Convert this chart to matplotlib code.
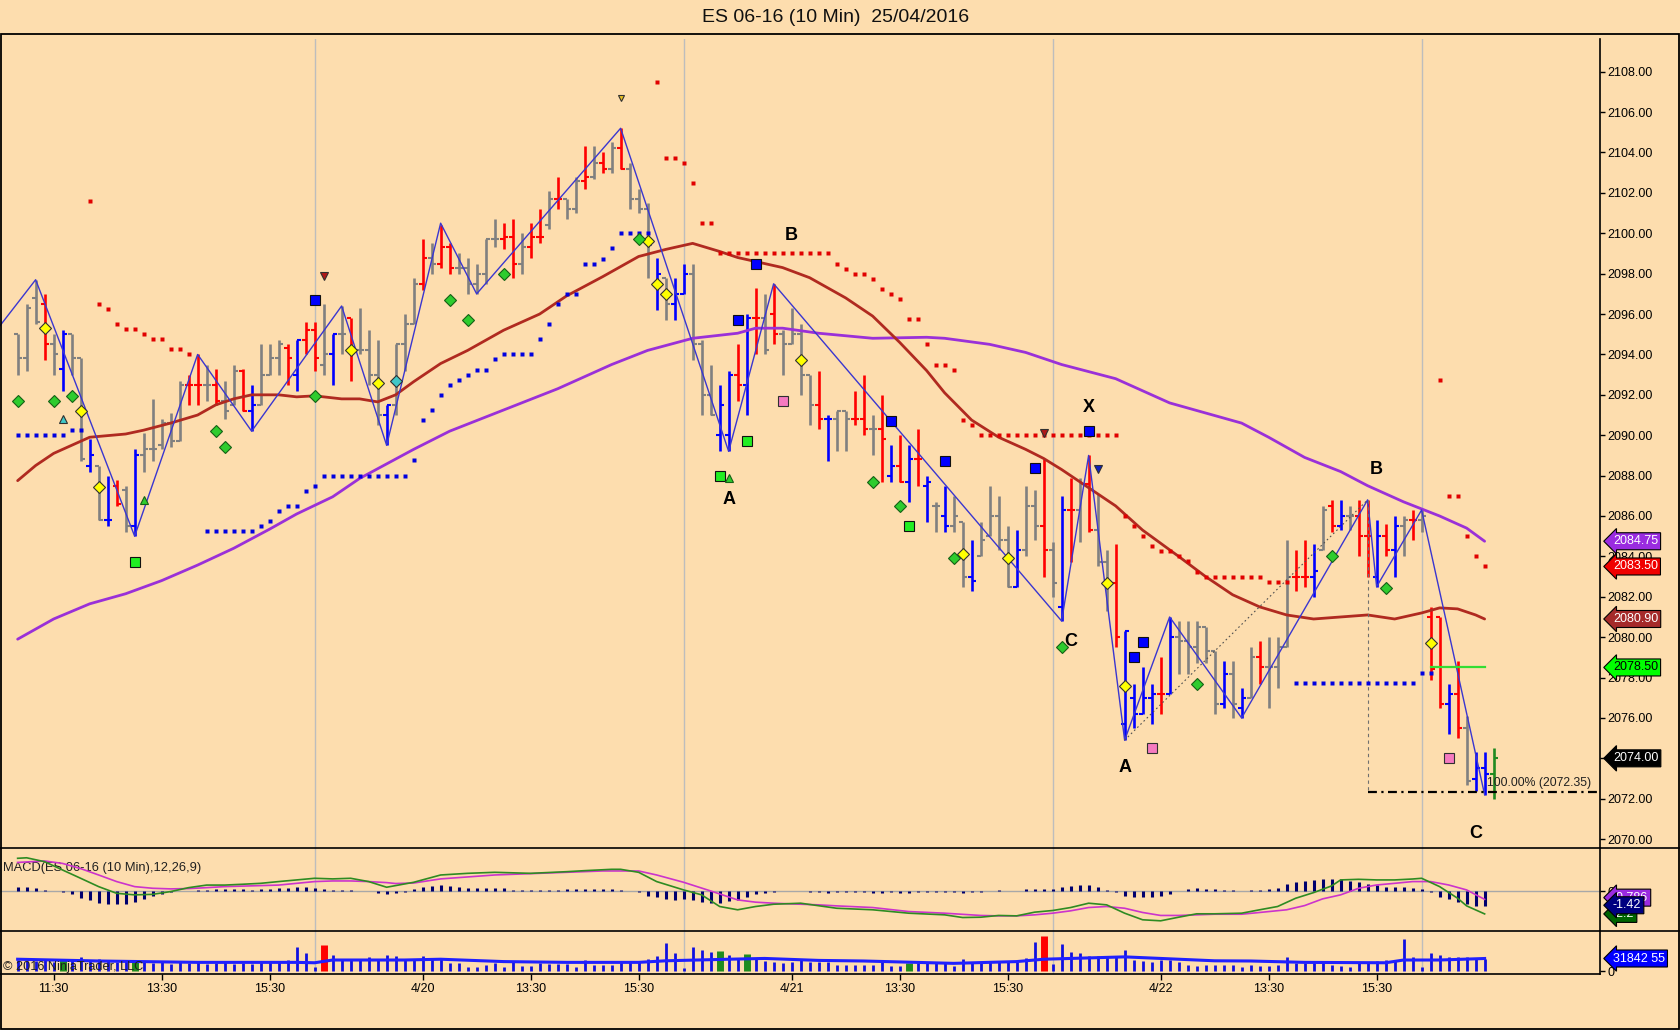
import numpy as np
import matplotlib
matplotlib.use("Agg")
import matplotlib.pyplot as plt
from matplotlib.lines import Line2D
from matplotlib.patches import Rectangle
import matplotlib.transforms as mtransforms

plt.rcParams['font.family'] = ['Liberation Sans', 'DejaVu Sans']

# ------------------------------------------------------------------ data
# bar numbers: 0 = 11:30 on 4/19, one bar = 10 minutes; first visible bar is -4
first_bar = -4

opens = [
    2095.0, 2093.8, 2096.8, 2096.5, 2094.5, 2093.3, 2095.0, 2093.8, 2088.5, 2088.5,
    2085.8, 2087.5, 2087.3, 2085.5, 2089.0, 2089.3, 2089.5, 2090.6, 2089.7, 2092.5,
    2092.5, 2092.5, 2092.5, 2091.7, 2091.5, 2093.2, 2091.2, 2091.5, 2093.0, 2093.8,
    2094.3, 2093.0, 2094.7, 2095.2, 2093.5, 2094.0, 2095.0, 2095.8, 2094.2, 2094.2,
    2093.0, 2091.0, 2091.5, 2094.5, 2095.5, 2097.5, 2098.8, 2098.5, 2099.3, 2098.3,
    2098.3, 2097.5, 2098.0, 2099.7, 2099.7, 2099.8, 2098.5, 2099.3, 2099.8, 2100.4,
    2101.7, 2101.7, 2101.2, 2102.6, 2102.8, 2103.5, 2103.2, 2104.2, 2103.2, 2101.7,
    2101.2, 2097.5, 2097.8, 2096.5, 2097.0, 2098.0, 2094.5, 2092.0, 2090.0, 2090.0,
    2093.0, 2092.5, 2095.8, 2095.8, 2096.0, 2095.0, 2094.5, 2095.0, 2093.0, 2091.5,
    2090.8, 2090.8, 2091.2, 2090.8, 2090.8, 2090.3, 2090.3, 2088.0, 2088.5, 2087.7,
    2088.8, 2087.5, 2086.5, 2086.0, 2085.5, 2085.7, 2083.0, 2084.0, 2085.0, 2086.0,
    2084.8, 2082.5, 2084.3, 2086.5, 2085.5, 2084.3, 2081.5, 2086.3, 2086.3, 2087.6,
    2085.3, 2083.7, 2082.7, 2075.7, 2077.0, 2076.2, 2077.0, 2077.2, 2077.2, 2080.0,
    2079.8, 2079.5, 2080.5, 2079.3, 2076.7, 2078.2, 2076.5, 2077.0, 2079.0, 2078.5,
    2078.5, 2079.5, 2083.0, 2083.0, 2083.0, 2084.3, 2086.5, 2085.5, 2086.0, 2086.0,
    2085.0, 2083.0, 2085.0, 2084.3, 2085.5, 2085.8, 2085.8, 2081.0, 2081.0, 2076.7,
    2077.2, 2075.5, 2073.0, 2073.5, 2073.2]
highs = [
    2095.0, 2096.5, 2097.7, 2097.0, 2095.0, 2095.2, 2095.0, 2093.8, 2089.8, 2088.5,
    2088.0, 2087.8, 2087.5, 2089.3, 2090.1, 2091.8, 2090.8, 2091.1, 2092.7, 2093.0,
    2094.0, 2093.5, 2093.3, 2092.7, 2093.5, 2093.3, 2092.5, 2094.5, 2094.5, 2094.7,
    2094.5, 2094.7, 2095.6, 2095.6, 2096.5, 2095.0, 2096.4, 2095.8, 2096.3, 2095.2,
    2094.7, 2091.5, 2094.5, 2096.0, 2097.8, 2099.7, 2099.5, 2100.4, 2099.5, 2099.0,
    2098.8, 2098.5, 2099.7, 2100.7, 2100.5, 2100.7, 2100.0, 2100.5, 2101.2, 2102.1,
    2102.8, 2101.7, 2102.8, 2104.3, 2104.3, 2104.0, 2104.5, 2105.2, 2103.5, 2102.2,
    2101.5, 2098.8, 2097.8, 2097.8, 2098.5, 2098.5, 2094.7, 2093.5, 2092.5, 2093.2,
    2094.5, 2096.0, 2097.3, 2097.0, 2097.5, 2095.2, 2096.3, 2095.5, 2093.0, 2093.2,
    2091.0, 2091.2, 2091.2, 2092.2, 2093.0, 2091.0, 2092.0, 2089.5, 2090.0, 2089.5,
    2090.3, 2088.0, 2086.7, 2087.5, 2087.0, 2085.7, 2084.8, 2085.7, 2087.5, 2087.0,
    2085.5, 2085.3, 2087.5, 2087.3, 2088.8, 2084.7, 2087.0, 2087.9, 2087.9, 2089.0,
    2087.1, 2084.3, 2084.6, 2080.3, 2077.7, 2078.5, 2077.7, 2079.0, 2081.0, 2080.8,
    2080.8, 2080.8, 2080.5, 2079.3, 2078.8, 2078.8, 2077.5, 2079.5, 2079.8, 2080.0,
    2080.0, 2084.8, 2084.3, 2084.8, 2084.6, 2086.5, 2086.8, 2086.8, 2086.5, 2086.8,
    2086.8, 2085.8, 2085.6, 2086.0, 2086.0, 2086.3, 2086.3, 2081.5, 2081.0, 2077.7,
    2078.8, 2076.1, 2074.3, 2074.3, 2074.5]
lows = [
    2093.0, 2093.2, 2095.5, 2093.7, 2093.0, 2092.2, 2093.0, 2088.7, 2088.2, 2085.8,
    2085.5, 2086.5, 2085.2, 2085.0, 2088.2, 2088.7, 2089.3, 2089.4, 2089.7, 2091.5,
    2091.5, 2091.7, 2091.5, 2090.8, 2091.5, 2091.2, 2090.2, 2091.5, 2093.0, 2093.0,
    2092.5, 2092.2, 2094.0, 2093.2, 2093.0, 2092.5, 2094.0, 2092.7, 2094.0, 2092.5,
    2090.5, 2089.5, 2091.0, 2093.2, 2095.5, 2097.2, 2098.0, 2098.3, 2098.0, 2098.0,
    2097.0, 2097.0, 2097.5, 2099.3, 2099.2, 2097.8, 2098.0, 2098.8, 2099.5, 2100.2,
    2101.2, 2100.7, 2101.0, 2102.2, 2102.7, 2103.0, 2103.0, 2103.2, 2101.2, 2101.0,
    2097.8, 2096.2, 2095.7, 2095.7, 2097.0, 2093.7, 2091.0, 2091.0, 2089.2, 2089.2,
    2091.7, 2091.0, 2094.0, 2094.0, 2094.5, 2093.0, 2094.5, 2092.0, 2090.5, 2090.3,
    2088.7, 2089.2, 2089.2, 2090.5, 2090.0, 2089.0, 2087.7, 2087.7, 2087.7, 2086.7,
    2087.5, 2085.7, 2085.2, 2085.2, 2085.2, 2082.5, 2082.3, 2084.0, 2085.0, 2084.3,
    2082.5, 2082.5, 2084.0, 2084.8, 2083.0, 2082.0, 2080.8, 2083.7, 2084.7, 2085.2,
    2083.5, 2081.3, 2079.5, 2074.9, 2075.5, 2076.2, 2075.7, 2076.2, 2077.2, 2078.2,
    2078.2, 2078.7, 2078.7, 2076.2, 2076.5, 2076.0, 2076.0, 2077.0, 2077.7, 2076.5,
    2077.5, 2079.5, 2082.3, 2082.5, 2082.0, 2084.3, 2085.2, 2085.3, 2085.3, 2084.0,
    2083.0, 2082.5, 2084.0, 2083.0, 2084.0, 2084.8, 2085.2, 2077.9, 2076.5, 2075.2,
    2075.0, 2072.7, 2072.4, 2072.2, 2072.0]
closes = [
    2093.8, 2096.3, 2095.6, 2094.5, 2094.0, 2095.0, 2093.8, 2088.8, 2089.0, 2085.8,
    2085.8, 2086.6, 2085.5, 2089.0, 2089.3, 2089.3, 2090.6, 2089.7, 2092.5, 2092.5,
    2092.5, 2092.5, 2091.7, 2091.2, 2093.2, 2091.2, 2091.5, 2093.0, 2093.8, 2094.5,
    2093.8, 2094.7, 2095.2, 2093.8, 2094.0, 2095.0, 2095.0, 2094.2, 2094.2, 2093.0,
    2091.0, 2091.5, 2094.5, 2095.5, 2097.5, 2098.8, 2098.5, 2099.3, 2098.3, 2098.3,
    2097.5, 2098.0, 2099.7, 2099.7, 2099.8, 2098.5, 2099.3, 2099.8, 2099.8, 2101.7,
    2101.7, 2101.2, 2102.6, 2102.8, 2103.5, 2103.2, 2104.2, 2103.2, 2101.7, 2101.2,
    2099.4, 2098.0, 2096.5, 2097.0, 2098.0, 2094.5, 2092.0, 2091.0, 2091.5, 2093.0,
    2092.5, 2095.8, 2095.8, 2094.2, 2095.0, 2094.5, 2095.0, 2093.0, 2091.5, 2090.8,
    2090.8, 2091.2, 2090.8, 2090.8, 2090.3, 2090.3, 2089.8, 2088.5, 2087.7, 2088.8,
    2088.8, 2087.7, 2086.5, 2085.5, 2086.0, 2083.0, 2082.8, 2084.8, 2086.0, 2084.8,
    2082.5, 2084.3, 2086.5, 2085.5, 2084.3, 2082.7, 2086.3, 2086.3, 2087.6, 2085.3,
    2083.7, 2082.7, 2080.0, 2080.3, 2076.2, 2077.0, 2077.2, 2077.2, 2080.0, 2079.8,
    2079.5, 2080.5, 2079.3, 2076.7, 2078.2, 2076.7, 2077.0, 2079.0, 2078.5, 2078.5,
    2079.5, 2083.0, 2083.0, 2083.0, 2083.3, 2086.3, 2085.5, 2086.0, 2086.0, 2085.0,
    2085.0, 2085.0, 2084.3, 2085.5, 2085.8, 2085.8, 2086.0, 2078.4, 2076.7, 2077.2,
    2075.5, 2072.9, 2073.5, 2073.2, 2074.0]
# g = grey, r = red, b = blue, G = green (last, still forming bar)
bar_colors = ("gggrgbggbg" "brgbgggggr" "rgrggrbggg" "rbrrgbgrgg" "gbgggrgrrg"
              "ggggrrgrrg" "rggrgrgrgg" "gbgbbgggbb" "rbrgrggggr" "bggrrgrbrb"
              "rbgbggbggg" "gbggrgbrgr" "ggrbbbbrbg" "ggggbgbgrg" "ggrrbgrbgr"
              "rbrbgrgrrb" "rgbbG")

# volume in thousands (bars -4 .. 159)
volumes_k = [
    28, 25, 26, 27, 22, 28, 30, 36, 28, 30,
    25, 22, 26, 24, 22, 20, 22, 18, 22, 20,
    22, 18, 20, 22, 18, 20, 18, 22, 24, 22,
    28, 62, 47, 10, 66, 41, 30, 28, 28, 36,
    28, 40, 38, 28, 30, 39, 30, 30, 20, 20,
    11, 11, 15, 20, 11, 22, 14, 14, 20, 17,
    17, 17, 11, 28, 15, 15, 15, 22, 22, 22,
    30, 38, 72, 45, 8, 62, 54, 49, 51, 41,
    34, 43, 32, 25, 24, 20, 24, 28, 24, 24,
    24, 15, 15, 15, 15, 15, 24, 14, 14, 20,
    20, 20, 20, 20, 14, 30, 22, 22, 22, 22,
    22, 22, 32, 75, 88, 17, 70, 49, 45, 39,
    39, 39, 39, 54, 28, 25, 24, 28, 28, 22,
    15, 14, 15, 15, 15, 15, 11, 15, 14, 14,
    15, 36, 20, 20, 20, 25, 15, 14, 11, 20,
    24, 25, 28, 28, 82, 36, 11, 47, 41, 36,
    36, 36, 32, 30]
vol_green_bars = [1, 9, 74, 77, 95]
vol_red_bars = [30, 110]
vol_ma_x = [-4, 5, 16, 27, 29, 31, 39, 43, 50, 57, 65, 68, 75, 79, 85, 90, 100, 107,
            110, 119, 123, 129, 133, 139, 148, 150, 154, 159]
vol_ma_k = [30, 25.5, 22, 22, 21, 28, 28, 30, 24, 22, 22, 26, 30, 32, 27, 25.5, 19.5, 24,
            30, 36, 32, 26, 25.5, 22, 21, 28, 28, 31.84]

# MACD histogram (bars -4 .. 159)
macd_hist = [
    0.45, 0.45, 0.3, 0.1, 0.04, -0.1, -0.25, -0.7, -0.85, -1.15,
    -1.25, -1.25, -1.25, -1.0, -0.8, -0.5, -0.3, -0.1, 0.03, 0.05,
    0.12, 0.15, 0.25, 0.25, 0.25, 0.2, 0.15, 0.2, 0.22, 0.3,
    0.35, 0.4, 0.42, 0.35, 0.2, 0.15, 0.12, 0.1, 0.05, 0.03,
    -0.2, -0.22, -0.2, -0.05, 0.2, 0.45, 0.55, 0.6, 0.5, 0.42,
    0.32, 0.32, 0.32, 0.32, 0.32, 0.12, 0.1, 0.1, 0.1, 0.15,
    0.15, 0.2, 0.22, 0.22, 0.22, 0.22, 0.22, 0.1, 0.03, -0.12,
    -0.45, -0.6, -0.77, -0.84, -0.77, -0.84, -1.06, -1.16, -1.16, -0.94,
    -0.84, -0.52, -0.29, -0.13, -0.03, 0.03, 0.06, 0.03, -0.03, -0.1,
    -0.2, -0.06, -0.06, -0.06, -0.1, -0.13, -0.2, -0.1, -0.16, -0.13,
    -0.06, -0.06, -0.06, -0.06, -0.06, -0.2, -0.1, -0.03, 0.03, 0.1,
    0.03, 0.03, 0.26, 0.26, 0.26, 0.2, 0.42, 0.52, 0.6, 0.6,
    0.42, 0.13, -0.06, -0.45, -0.6, -0.6, -0.52, -0.42, -0.23, 0.03,
    0.22, 0.29, 0.25, 0.2, 0.1, 0.1, 0.06, 0.13, 0.16, 0.22,
    0.35, 0.74, 0.87, 1.0, 1.06, 1.16, 1.16, 1.16, 1.03, 0.87,
    0.68, 0.6, 0.45, 0.45, 0.39, 0.35, 0.22, -0.06, -0.52, -0.77,
    -1.0, -1.26, -1.39, -1.42]
macd_x = [-4, -3, -1, 1, 3, 5, 7, 9, 11, 13, 15, 17, 19, 21, 23, 25, 27, 29, 31, 33,
          35, 37, 38, 40, 43, 46, 49, 53, 57, 59, 62, 63, 65, 67, 70, 72, 74, 76, 78, 80,
          83, 87, 91, 95, 99, 101, 103, 105, 107, 109, 111, 113, 115, 117, 119, 121, 123,
          125, 127, 129, 132, 134, 136, 138, 140, 142, 143, 145, 147, 149, 151, 152, 154,
          156, 157, 159]
macd_line = [3.2, 3.25, 2.87, 2.06, 1.26, 0.45, -0.2, -0.35, -0.3, -0.03, 0.35, 0.6, 0.6,
             0.68, 0.77, 0.94, 1.1, 1.26, 1.2, 1.26, 0.94, 0.39, 0.55, 0.87, 1.58, 1.74,
             1.84, 1.74, 1.9, 2.0, 2.13, 2.13, 1.84, 0.94, 0.13, -0.35, -1.48, -1.8, -1.48,
             -1.26, -1.16, -1.65, -1.8, -2.13, -2.29, -2.55, -2.52, -2.35, -2.39, -2.03,
             -1.87, -1.58, -1.16, -1.32, -2.13, -2.77, -2.87, -2.52, -2.19, -2.19, -2.13,
             -1.8, -1.48, -0.68, -0.13, 0.52, 1.1, 1.16, 1.1, 1.1, 1.19, 1.26, 0.45, -0.68,
             -1.42, -2.2]
sig_x = [-4, -1, 1, 3, 5, 7, 9, 11, 13, 15, 17, 19, 21, 23, 25, 27, 29, 31, 33, 35, 37,
         38, 40, 43, 49, 53, 57, 61, 65, 67, 70, 73, 76, 78, 80, 82, 85, 87, 91, 95, 99,
         103, 105, 107, 109, 111, 113, 115, 117, 119, 121, 123, 125, 127, 129, 132, 134,
         137, 139, 141, 143, 145, 147, 149, 151, 153, 155, 157, 159]
sig_line = [2.8, 2.94, 2.7, 2.2, 1.58, 0.94, 0.45, 0.29, 0.23, 0.26, 0.35, 0.45, 0.5,
            0.55, 0.6, 0.77, 0.94, 1.0, 1.0, 0.94, 0.84, 0.75, 0.8, 1.2, 1.58, 1.71, 1.84,
            1.97, 1.97, 1.58, 0.87, 0.03, -0.84, -1.06, -1.16, -1.23, -1.32, -1.42, -1.58,
            -1.97, -2.13, -2.35, -2.39, -2.39, -2.29, -2.13, -1.9, -1.58, -1.48, -1.65,
            -2.06, -2.35, -2.35, -2.29, -2.23, -2.23, -2.06, -1.8, -1.39, -0.74, -0.35,
            0.29, 0.61, 0.77, 0.94, 0.94, 0.61, 0.13, -0.786]

# moving averages (brown = fast, purple = slow)
ma_fast_x = [-4, -2, 0, 2, 4, 8, 10, 13, 16, 18, 20, 22, 25, 27, 29, 32, 34, 36, 38, 40,
             43, 46, 50, 54, 57, 61, 65, 68, 71, 74, 76, 79, 81, 84, 88, 91, 94, 97, 99,
             102, 105, 108, 110, 112, 114, 118, 121, 125, 128, 131, 134, 137, 140, 143,
             146, 149, 152, 154, 156, 158, 159]
ma_fast = [2087.75, 2088.5, 2089.1, 2089.5, 2089.9, 2090.06, 2090.25, 2090.6, 2091.0,
           2091.5, 2091.8, 2092.0, 2092.0, 2091.9, 2091.95, 2091.8, 2091.8, 2091.65,
           2092.0, 2092.65, 2093.55, 2094.2, 2095.2, 2096.0, 2096.9, 2097.85, 2098.85,
           2099.2, 2099.5, 2099.1, 2098.8, 2098.5, 2098.3, 2097.8, 2096.8, 2095.9, 2094.6,
           2093.2, 2092.1, 2090.75, 2089.9, 2089.3, 2088.85, 2088.3, 2087.7, 2086.5,
           2085.3, 2084.0, 2083.0, 2082.1, 2081.5, 2081.1, 2080.9, 2081.0, 2081.1, 2080.9,
           2081.2, 2081.45, 2081.4, 2081.1, 2080.9]
ma_slow_x = [-4, 0, 4, 8, 12, 16, 20, 24, 27, 31, 34, 40, 44, 50, 56, 62, 66, 71, 76, 78,
             81, 85, 91, 97, 99, 104, 108, 112, 118, 124, 128, 132, 135, 139, 143, 146,
             150, 154, 157, 159]
ma_slow = [2079.9, 2080.9, 2081.65, 2082.15, 2082.8, 2083.57, 2084.4, 2085.35, 2086.1,
           2086.95, 2087.86, 2089.3, 2090.2, 2091.25, 2092.3, 2093.5, 2094.2, 2094.8,
           2095.05, 2095.3, 2095.3, 2095.05, 2094.8, 2094.85, 2094.8, 2094.5, 2094.1,
           2093.5, 2092.8, 2091.6, 2091.1, 2090.6, 2089.9, 2088.9, 2088.2, 2087.5, 2086.7,
           2086.0, 2085.4, 2084.75]

# zigzag swing points
zz_x = [-6, -2, 9, 16, 22, 32, 37, 43, 47, 63, 75, 80, 112, 115, 119, 124, 132, 146, 147,
        152, 159]
zz_p = [2095.4, 2097.7, 2085.0, 2094.0, 2090.2, 2096.4, 2089.5, 2100.5, 2097.0, 2105.2,
        2089.2, 2097.5, 2080.8, 2089.0, 2074.9, 2081.0, 2076.0, 2086.8, 2082.5, 2086.3,
        2072.2]

# trailing-stop dots
red_dot_x = [4, 5, 6, 7, 8, 9, 10, 11, 12, 13, 14, 15,
             67, 68, 69, 70, 71, 72, 73, 74, 75, 76, 77, 78, 79, 80, 81, 82, 83, 84, 85, 86,
             87, 88, 89, 90, 91, 92, 93, 94, 95, 96, 97, 98, 99, 100, 101, 102,
             103, 104, 105, 106, 107, 108, 109, 110, 111, 112, 113, 114, 115, 116, 117, 118,
             119, 120, 121, 122, 123, 124, 125, 126, 127, 128, 129, 130, 131, 132, 133, 134,
             135, 136, 137,
             154, 155, 156, 157, 158, 159]
red_dot_p = [2101.6, 2096.5, 2096.25, 2095.5, 2095.25, 2095.25, 2095.0, 2094.75, 2094.75,
             2094.25, 2094.25, 2094.0,
             2107.5, 2103.75, 2103.75, 2103.5, 2102.5, 2100.5, 2100.5, 2099.0, 2099.0,
             2099.0, 2099.0, 2099.0, 2099.0, 2099.0, 2099.0, 2099.0, 2099.0, 2099.0,
             2099.0, 2099.0,
             2098.5, 2098.25, 2098.0, 2098.0, 2097.75, 2097.25, 2097.0, 2096.75, 2095.75,
             2095.75, 2094.5, 2093.5, 2093.5, 2093.25, 2090.75, 2090.5,
             2090.0, 2090.0, 2090.0, 2090.0, 2090.0, 2090.0, 2090.0, 2090.0, 2090.0,
             2090.0, 2090.0, 2090.0, 2090.0, 2090.0, 2090.0, 2090.0,
             2086.0, 2085.5, 2085.0, 2084.5, 2084.25, 2084.25, 2084.0, 2083.75, 2083.25,
             2083.0, 2083.0, 2083.0, 2083.0, 2083.0, 2083.0, 2083.0,
             2082.75, 2082.75, 2082.75,
             2092.75, 2087.0, 2087.0, 2085.0, 2084.0, 2083.5]
blue_dot_x = [-4, -3, -2, -1, 0, 1, 2, 3,
              17, 18, 19, 20, 21, 22, 23, 24, 25, 26, 27, 28, 29,
              30, 31, 32, 33, 34, 35, 36, 37, 38, 39, 40, 41, 42, 43, 44, 45, 46, 47, 48,
              49, 50, 51, 52, 53, 54, 55, 56, 57, 58, 59, 60, 61, 62, 63, 64, 65, 66,
              138, 139, 140, 141, 142, 143, 144, 145, 146, 147, 148, 149, 150, 151, 152, 153]
blue_dot_p = [2090.0, 2090.0, 2090.0, 2090.0, 2090.0, 2090.0, 2090.25, 2090.25,
              2085.25, 2085.25, 2085.25, 2085.25, 2085.25, 2085.25, 2085.5, 2085.75,
              2086.25, 2086.5, 2086.5, 2087.25, 2087.5,
              2088.0, 2088.0, 2088.0, 2088.0, 2088.0, 2088.0, 2088.0, 2088.0, 2088.0,
              2088.0, 2088.75, 2090.75, 2091.25, 2092.0, 2092.5, 2092.75, 2093.0, 2093.25,
              2093.25, 2093.75, 2094.0, 2094.0, 2094.0, 2094.0, 2094.75, 2095.5, 2096.5,
              2097.0, 2097.0, 2098.5, 2098.5, 2098.75, 2099.25, 2100.0, 2100.0, 2100.0,
              2100.0,
              2077.75, 2077.75, 2077.75, 2077.75, 2077.75, 2077.75, 2077.75, 2077.75,
              2077.75, 2077.75, 2077.75, 2077.75, 2077.75, 2077.75, 2078.25, 2078.25]

# signal markers
yellow_dia_x = [-1, 3, 5, 33, 36, 66, 67, 68, 83, 101, 106, 117, 119, 153]
yellow_dia_p = [2095.3, 2091.2, 2087.45, 2094.2, 2092.6, 2099.6, 2097.5, 2097.0, 2093.7,
                2084.1, 2083.9, 2082.7, 2077.6, 2079.7]
green_dia_x = [-4, 0, 2, 18, 19, 29, 44, 46, 50, 65, 91, 94, 100, 112, 127, 142, 148]
green_dia_p = [2091.7, 2091.7, 2091.95, 2090.2, 2089.4, 2091.95, 2096.7, 2095.7, 2098.0,
               2099.7, 2087.7, 2086.5, 2083.9, 2079.5, 2077.7, 2084.0, 2082.45]
blue_sq_x = [29, 76, 78, 93, 99, 109, 115, 120, 121]
blue_sq_p = [2096.7, 2095.7, 2098.5, 2090.7, 2088.7, 2088.4, 2090.2, 2079.0, 2079.75]
green_sq_x = [9, 74, 77, 95]
green_sq_p = [2083.7, 2088.0, 2089.7, 2085.5]
pink_sq_x = [81, 122, 155]
pink_sq_p = [2091.7, 2074.5, 2074.0]
cyan_x, cyan_p = [38], [2092.7]
cyan_tri_x, cyan_tri_p = [1], [2090.8]
green_tri_x, green_tri_p = [10, 75], [2086.8, 2087.9]
red_tri_x, red_tri_p = [30, 110], [2097.9, 2090.1]
gold_tri_x, gold_tri_p = [63], [2106.7]
blue_tri_x, blue_tri_p = [116], [2088.35]

# pattern labels
pattern_text = ['B', 'A', 'X', 'C', 'A', 'B', 'C']
pattern_x = [82, 75, 115, 113, 119, 147, 158]
pattern_p = [2099.9, 2086.8, 2091.35, 2079.8, 2073.55, 2088.3, 2070.3]

# projection
proj_level = 2072.35
pt_A = (119, 2074.9)
pt_B = (146, 2086.8)
stop_line_x = [153, 159]
stop_line_p = 2078.5

# axis
price_ticks = [2070, 2072, 2074, 2076, 2078, 2080, 2082, 2084, 2086, 2088, 2090, 2092,
               2094, 2096, 2098, 2100, 2102, 2104, 2106, 2108]
time_ticks = [0, 12, 24, 41, 53, 65, 82, 94, 106, 123, 135, 147]
time_labels = ['11:30', '13:30', '15:30', '4/20', '13:30', '15:30', '4/21', '13:30',
               '15:30', '4/22', '13:30', '15:30']
session_breaks = [29, 70, 111, 152]

# ------------------------------------------------------------------ figure
BG = '#FDDDAE'
W, H = 1680, 1030
fig = plt.figure(figsize=(W / 100, H / 100), dpi=100, facecolor=BG)


def fy(y):
    return 1 - y / H


def fx(x):
    return x / W


ax = fig.add_axes([0, fy(848), fx(1600), fy(39) - fy(848)])
axm = fig.add_axes([0, fy(930.7), fx(1600), fy(848) - fy(930.7)], sharex=ax)
axv = fig.add_axes([0, fy(974), fx(1600), fy(930.7) - fy(974)], sharex=ax)

for a in (ax, axm, axv):
    a.set_facecolor(BG)
    for s in ('top', 'left', 'bottom'):
        a.spines[s].set_visible(False)
    a.spines['right'].set_color('black')
    a.spines['right'].set_linewidth(1.2)
    a.yaxis.tick_right()
    a.tick_params(axis='y', direction='out', length=3.6, width=1, labelsize=9, pad=1.5,
                  colors='black')
    for s in session_breaks:
        a.axvline(s, color='#BDBDBD', lw=1, zorder=1)
axv.spines['bottom'].set_visible(True)
axv.spines['bottom'].set_linewidth(1.2)

ax.set_xlim(-5.96, 171.82)
ax.set_ylim(2069.56, 2109.62)
axm.set_ylim(-3.83, 4.20)
axv.set_ylim(-7.6, 102.6)

ax.set_yticks(price_ticks)
ax.set_yticklabels(['%.2f' % p for p in price_ticks])
axm.set_yticks([0])
axm.set_yticklabels(['0'])
axv.set_yticks([0])
axv.set_yticklabels(['0'])

ax.tick_params(axis='x', bottom=False, labelbottom=False)
axm.tick_params(axis='x', bottom=False, labelbottom=False)
axv.set_xticks(time_ticks)
axv.set_xticklabels(time_labels)
axv.tick_params(axis='x', direction='out', length=4.3, width=1, labelsize=9, pad=2)

# ---- price bars
bars = np.arange(len(opens)) + first_bar
col_map = {'g': '#808080', 'r': '#FF0000', 'b': '#0000FF', 'G': '#208A20'}
cols = [col_map[c] for c in bar_colors]
ax.vlines(bars, lows, highs, colors=cols, lw=1.9, zorder=3)
ax.hlines(opens, bars - 0.45, bars, colors=cols, lw=1.5, zorder=3)
ax.hlines(closes, bars, bars + 0.45, colors=cols, lw=1.5, zorder=3)

# ---- moving averages
ax.plot(ma_slow_x, ma_slow, color='#9A30D8', lw=2.0, zorder=4, solid_capstyle='round')
ax.plot(ma_fast_x, ma_fast, color='#B02A20', lw=2.0, zorder=4, solid_capstyle='round')

# ---- zigzag and projection
ax.plot(zz_x, zz_p, color='#3A36D0', lw=1.0, zorder=5)
ax.plot([pt_A[0], pt_B[0]], [pt_A[1], pt_B[1]], color='#505050', lw=0.8,
        ls=(0, (1.5, 2.5)), zorder=5)
ax.plot([pt_B[0], pt_B[0]], [pt_B[1], proj_level], color='#707070', lw=0.8,
        ls=(0, (3, 3)), zorder=5)
ax.plot([pt_B[0], 171.82], [proj_level, proj_level], color='black', lw=1.6,
        ls=(0, (4, 2, 1, 2)), zorder=5, clip_on=True)
ax.text(159.3, proj_level + 0.45, '100.00% (2072.35)', fontsize=8.8, color='#202020',
        ha='left', va='center', zorder=7)
ax.plot(stop_line_x, [stop_line_p, stop_line_p], color='#33DD33', lw=1.6, zorder=5)

# ---- stop dots
ax.plot(red_dot_x, red_dot_p, ls='none', marker='s', ms=2.7, mfc='#E00000', mec='none',
        zorder=5)
ax.plot(blue_dot_x, blue_dot_p, ls='none', marker='s', ms=2.7, mfc='#0000E0', mec='none',
        zorder=5)


def mk(xs, ys, marker, fc, ms, ec='#303030'):
    ax.plot(xs, ys, ls='none', marker=marker, mfc=fc, mec=ec, mew=0.8, ms=ms, zorder=6)


mk(yellow_dia_x, yellow_dia_p, 'D', '#FFFF00', 6.2)
mk(green_dia_x, green_dia_p, 'D', '#2ECC2E', 6.2, ec='#156015')
mk(cyan_x, cyan_p, 'D', '#40C8C8', 6.2)
mk(blue_sq_x, blue_sq_p, 's', '#0000FF', 7.5, ec='#101010')
mk(green_sq_x, green_sq_p, 's', '#22EE22', 7.5, ec='#101010')
mk(pink_sq_x, pink_sq_p, 's', '#F57AC0', 7.5, ec='#303030')
mk(cyan_tri_x, cyan_tri_p, '^', '#40C8C8', 6)
mk(green_tri_x, green_tri_p, '^', '#2ECC2E', 6, ec='#156015')
mk(red_tri_x, red_tri_p, 'v', '#B01818', 6)
mk(gold_tri_x, gold_tri_p, 'v', '#E8C020', 5)
mk(blue_tri_x, blue_tri_p, 'v', '#1020C0', 6)

for t, x, p in zip(pattern_text, pattern_x, pattern_p):
    ax.text(x, p, t, fontsize=13, fontweight='bold', ha='center', va='center',
            color='black', zorder=7)

# ---- MACD panel
axm.axhline(0, color='#A8A8A8', lw=1, zorder=1)
ind_bars = np.arange(len(macd_hist)) + first_bar
axm.vlines(ind_bars, 0, macd_hist, colors='#00006E', lw=2.2, zorder=3)
axm.plot(sig_x, sig_line, color='#CC33CC', lw=1.2, zorder=4)
axm.plot(macd_x, macd_line, color='#2E8B22', lw=1.2, zorder=4)
axm.text(0.002, 0.76, 'MACD(ES 06-16 (10 Min),12,26,9)', transform=axm.transAxes,
         fontsize=9.3, ha='left', va='center', color='#202020')

# ---- volume panel
vol_bars = np.arange(len(volumes_k)) + first_bar
vcols = []
vlw = []
for b in vol_bars:
    if b in vol_green_bars:
        vcols.append('#1E8C1E'); vlw.append(5)
    elif b in vol_red_bars:
        vcols.append('#FF0000'); vlw.append(5)
    else:
        vcols.append('#1010E0'); vlw.append(2)
axv.vlines(vol_bars, 0, volumes_k, colors=vcols, lw=vlw, zorder=3)
axv.plot(vol_ma_x, vol_ma_k, color='#2020FF', lw=2.2, zorder=4)
axv.text(0.002, 0.17, '\u00a9 2016 NinjaTrader, LLC', transform=axv.transAxes,
         fontsize=9.2, ha='left', va='center', color='#202020', zorder=6)


# ---- value flags on the right axis
def flag(a, y, txt, fc, tc='white', z=10):
    tr = mtransforms.blended_transform_factory(a.transAxes, a.transData)
    a.text(1.0081, y, txt, transform=tr, ha='left', va='center', fontsize=9.0, color=tc,
           clip_on=False, zorder=z,
           bbox=dict(boxstyle='larrow,pad=0.2', fc=fc, ec='black', lw=0.8))


flag(ax, 2084.75, '2084.75', '#9A2BE0')
flag(ax, 2083.50, '2083.50', '#F00000')
flag(ax, 2080.90, '2080.90', '#A52A2A')
flag(ax, 2078.50, '2078.50', '#00FF00', tc='black')
flag(ax, 2074.00, '2074.00', '#000000')
flag(axm, -2.2, '-2.2', '#006400', z=10)
flag(axm, -0.62, '-0.786', '#9A2BE0', z=11)
flag(axm, -1.36, '-1.42', '#000080', z=12)
flag(axv, 31.84, '31842 55', '#0000FF')

# ---- frame, panel separators, title
fig.add_artist(Rectangle((0.0003, fy(1029)), fx(1679) - 0.0003, fy(34) - fy(1029),
                         transform=fig.transFigure, fill=False, ec='black', lw=1.3))
for yy in (848, 930.7):
    fig.add_artist(Line2D([0, fx(1679)], [fy(yy), fy(yy)], transform=fig.transFigure,
                          color='black', lw=1.2))
fig.text(fx(836), fy(17.5), 'ES 06-16 (10 Min)  25/04/2016', ha='center', va='center',
         fontsize=14, color='#101010')

fig.savefig('out.png', dpi=100, facecolor=BG)
